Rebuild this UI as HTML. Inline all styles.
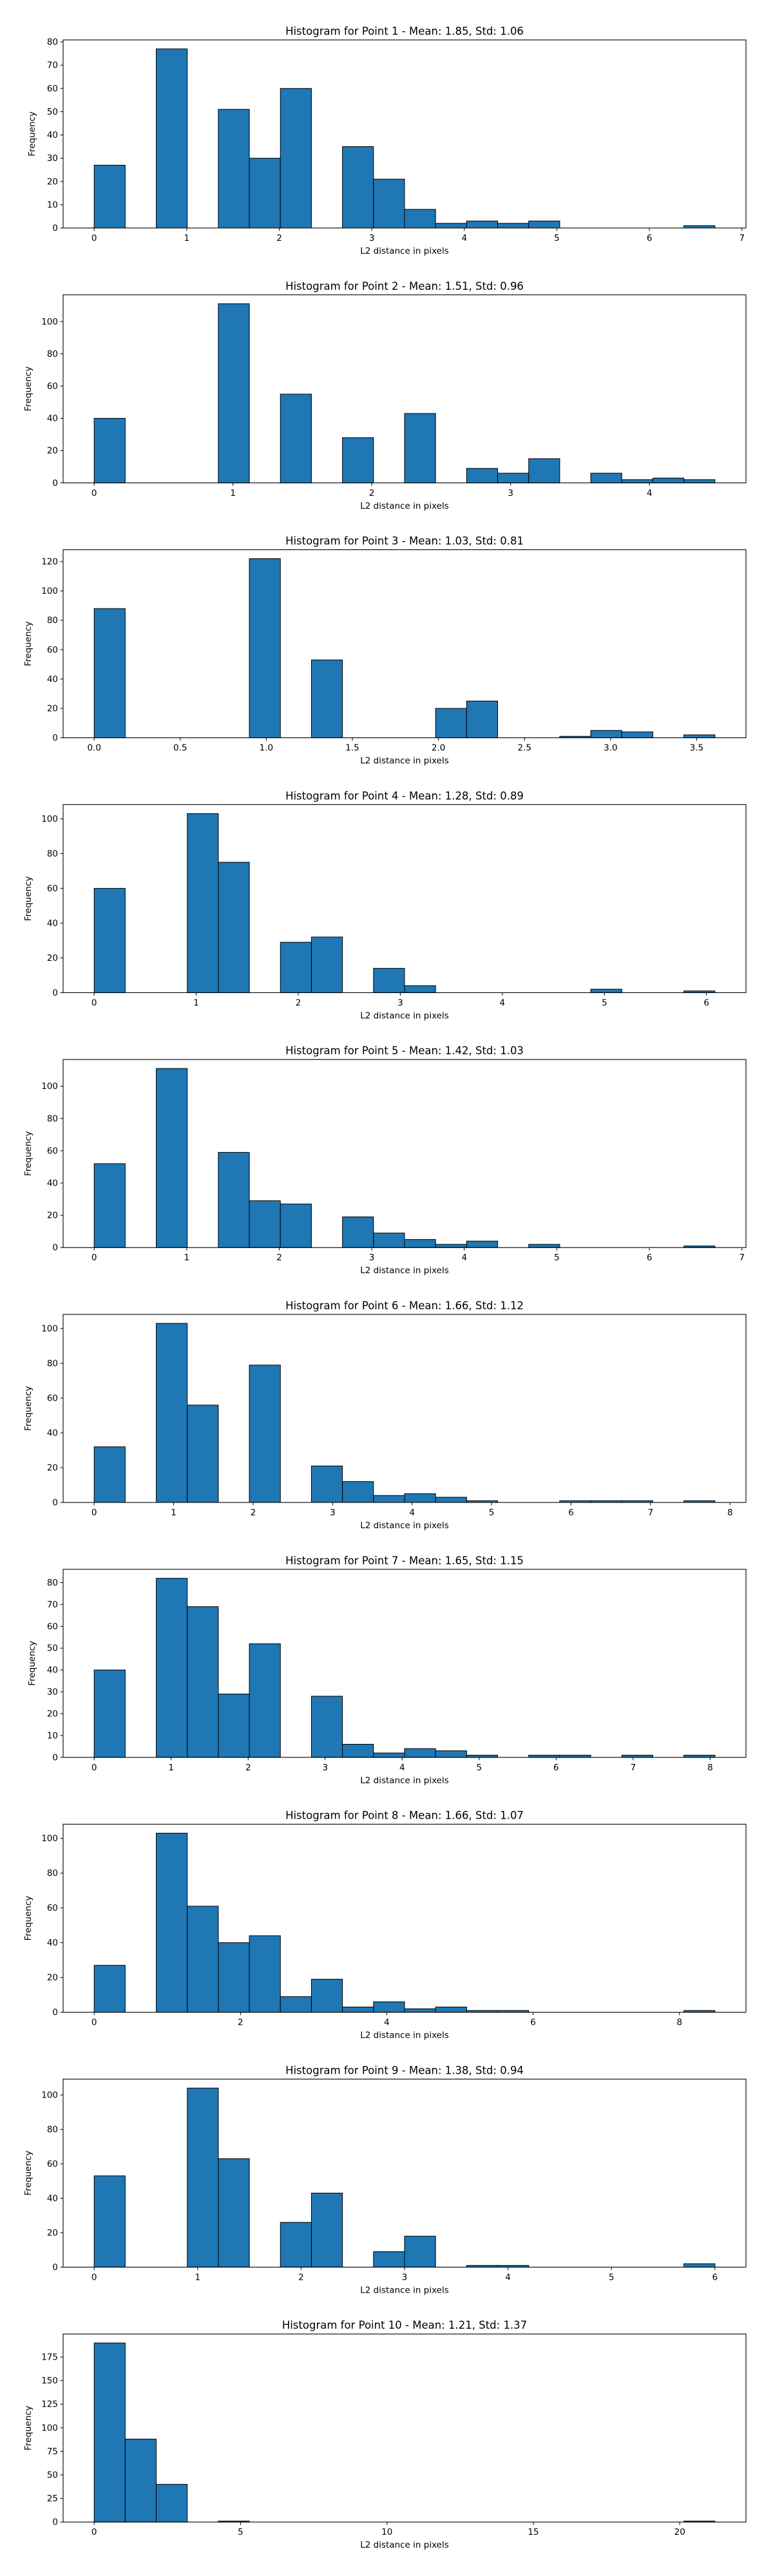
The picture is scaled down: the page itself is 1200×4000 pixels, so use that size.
<!DOCTYPE html>
<html><head><meta charset="utf-8"><style>
html,body{margin:0;padding:0;background:#fff;}
svg{display:block;font-family:"DejaVu Sans","Liberation Sans",sans-serif;}
</style></head><body>
<svg id="chart" width="1200" height="4000" viewBox="0 0 1200 4000" xmlns="http://www.w3.org/2000/svg"></svg>
<script>
const titles = ["Histogram for Point 1 - Mean: 1.85, Std: 1.06","Histogram for Point 2 - Mean: 1.51, Std: 0.96","Histogram for Point 3 - Mean: 1.03, Std: 0.81","Histogram for Point 4 - Mean: 1.28, Std: 0.89","Histogram for Point 5 - Mean: 1.42, Std: 1.03","Histogram for Point 6 - Mean: 1.66, Std: 1.12","Histogram for Point 7 - Mean: 1.65, Std: 1.15","Histogram for Point 8 - Mean: 1.66, Std: 1.07","Histogram for Point 9 - Mean: 1.38, Std: 0.94","Histogram for Point 10 - Mean: 1.21, Std: 1.37"];
const binMax = [6.708, 4.472, 3.606, 6.083, 6.708, 7.81, 8.062, 8.485, 6.0, 21.2];
const counts1 = [27,0,77,0,51,30,60,0,35,21,8,2,3,2,3,0,0,0,0,1];
const counts2 = [40,0,0,0,111,0,55,0,28,0,43,0,9,6,15,0,6,2,3,2];
const counts3 = [88,0,0,0,0,122,0,53,0,0,0,20,25,0,0,1,5,4,0,2];
const counts4 = [60,0,0,103,75,0,29,32,0,14,4,0,0,0,0,0,2,0,0,1];
const counts5 = [52,0,111,0,59,29,27,0,19,9,5,2,4,0,2,0,0,0,0,1];
const counts6 = [32,0,103,56,0,79,0,21,12,4,5,3,1,0,0,1,1,1,0,1];
const counts7 = [40,0,82,69,29,52,0,28,6,2,4,3,1,0,1,1,0,1,0,1];
const counts8 = [27,0,103,61,40,44,9,19,3,6,2,3,1,1,0,0,0,0,0,1];
const counts9 = [53,0,0,104,63,0,26,43,0,9,18,0,1,1,0,0,0,0,0,2];
const counts10 = [190,88,40,0,1,0,0,0,0,0,0,0,0,0,0,0,0,0,0,1];
const yTickStep = [10,20,20,20,20,20,10,20,20,25];
const xTickStep = [1,1,0.5,1,1,1,1,2,1,5];
const allCounts = [counts1,counts2,counts3,counts4,counts5,counts6,counts7,counts8,counts9,counts10];

const NS = "http://www.w3.org/2000/svg";
const svg = document.getElementById("chart");
function mk(tag, attrs, parent){const e=document.createElementNS(NS,tag);for(const k in attrs)e.setAttribute(k,attrs[k]);(parent||svg).appendChild(e);return e;}
const L=98, R=1158, H=292;
for(let p=0;p<10;p++){
  const top = 62 + p*395.8, bot = top+H;
  const g = mk("g",{});
  
  
  const c = allCounts[p], mx = binMax[p], n=c.length, w=mx/n;
  const xmin = -0.05*mx, xmax = mx*1.05;
  const ymax = Math.max(...c)*1.05;
  const X = v => L + (v-xmin)/(xmax-xmin)*(R-L);
  const Y = v => bot - v/ymax*H;
  const t = mk("text",{x:(L+R)/2,y:top-8,"text-anchor":"middle","font-size":"16.5",fill:"#000"},g);
  t.textContent = titles[p];
  
  
  for(let i=0;i<n;i++){
    const x0=X(i*w), x1=X((i+1)*w), y=Y(c[i]);
    const r = mk("rect",{x:x0,y:y,width:x1-x0,height:bot-y,fill:"#1f77b4",stroke:"#000","stroke-width":1},g);
    
    
  }
  const fr = mk("rect",{x:L,y:top,width:R-L,height:H,fill:"none",stroke:"#000","stroke-width":1.1},g);
  
  
  const ys = yTickStep[p];
  for(let v=0; v<=ymax+1e-9; v+=ys){
    const y=Y(v);
    mk("line",{x1:L-4.5,x2:L,y1:y,y2:y,stroke:"#000","stroke-width":1},g);
    const tl = mk("text",{x:L-8,y:y+4.5,"text-anchor":"end","font-size":"13.5",fill:"#000"},g);
    tl.textContent = v;
    
    
  }
  const xs = xTickStep[p];
  for(let k=0; k*xs<=xmax+1e-9; k++){
    const v=k*xs, x=X(v);
    mk("line",{x1:x,x2:x,y1:bot,y2:bot+4.5,stroke:"#000","stroke-width":1},g);
    const tl = mk("text",{x:x,y:bot+20,"text-anchor":"middle","font-size":"13.5",fill:"#000"},g);
    tl.textContent = xs<1 ? v.toFixed(1) : String(v);
    
    
  }
  const xl = mk("text",{x:(L+R)/2,y:bot+40,"text-anchor":"middle","font-size":"13.5",fill:"#000"},g);
  xl.textContent = "L2 distance in pixels";
  
  
  const yc=(top+bot)/2, yx = p===0||p===6 ? 54 : 48;
  const yl = mk("text",{x:yx,y:yc,"text-anchor":"middle","font-size":"13.5",fill:"#000",transform:`rotate(-90 ${yx} ${yc})`},g);
  yl.textContent = "Frequency";
  
  
}
</script>
</body></html>
